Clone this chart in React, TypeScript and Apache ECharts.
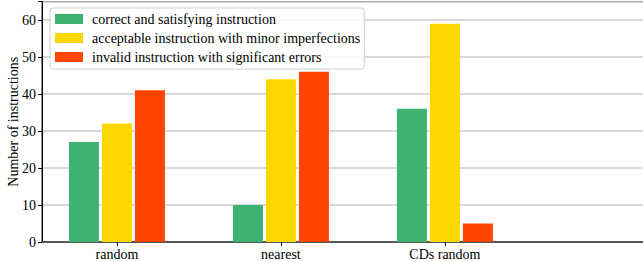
import React, { useEffect, useRef } from "react";
import * as echarts from "echarts";

const categories = ["random", "nearest", "CDs random"];
const seriesNames = [
  "correct and satisfying instruction",
  "acceptable instruction with minor imperfections",
  "invalid instruction with significant errors",
];
const correctValues = [27, 10, 36];
const acceptableValues = [32, 44, 59];
const invalidValues = [41, 46, 5];
const colors = ["#3CB371", "#FFD700", "#FF4500"];
const yTicks = [0, 10, 20, 30, 40, 50, 60];

const FONT = "'Liberation Serif', 'DejaVu Serif', serif";
const BAR_W = 30;
const BAR_PITCH = 33;

export default function App() {
  const ref = useRef<HTMLDivElement>(null);
  useEffect(() => {
    if (!ref.current) return;
    const chart = echarts.init(ref.current, undefined, { renderer: "svg" });
    const all = [correctValues, acceptableValues, invalidValues];
    const idx = categories.map((_, i) => i);
    chart.setOption({
      animation: false,
      textStyle: { fontFamily: FONT },
      grid: {
        left: 42,
        right: -2,
        top: 1.5,
        bottom: 20,
        containLabel: false,
        outerBoundsMode: "none",
        show: true,
        borderColor: "#444",
        borderWidth: 1.2,
        backgroundColor: "transparent",
      },
      legend: {
        orient: "vertical",
        left: 50,
        top: 8,
        itemWidth: 28,
        itemHeight: 10,
        itemGap: 5,
        padding: [4, 4, 5, 5],
        borderColor: "#d0d0d0",
        borderWidth: 1,
        borderRadius: 3,
        backgroundColor: "rgba(255,255,255,0.85)",
        textStyle: { fontFamily: FONT, fontSize: 14, color: "#000", padding: [0, 0, 0, 4] },
        data: seriesNames.map((n, i) => ({ name: n, icon: "rect", itemStyle: { color: colors[i] } })),
      },
      xAxis: {
        type: "value",
        min: -0.457,
        max: 3.22,
        splitLine: { show: false },
        axisLine: { show: true, onZero: false, lineStyle: { color: "#555", width: 2 } },
        axisTick: { show: true, customValues: idx, length: 4, lineStyle: { color: "#000" } },
        axisLabel: {
          customValues: idx,
          formatter: (v: number) => categories[Math.round(v)] ?? "",
          fontFamily: FONT,
          fontSize: 14,
          color: "#000",
          margin: 5,
        },
      },
      yAxis: {
        type: "value",
        min: 0,
        max: 65,
        interval: 10,
        name: "Number of instructions",
        nameLocation: "middle",
        nameGap: 22,
        nameMoveOverlap: false,
        nameTextStyle: { fontFamily: FONT, fontSize: 14, color: "#000" },
        axisLine: { show: true, onZero: false, lineStyle: { color: "#000", width: 1 } },
        axisTick: { show: true, length: 4, lineStyle: { color: "#000" } },
        axisLabel: {
          fontFamily: FONT,
          fontSize: 14,
          color: "#000",
          margin: 6,
          formatter: (v: number) => (yTicks.includes(v) ? String(v) : ""),
        },
        splitLine: { show: true, lineStyle: { color: "#cccccc", width: 1.5 } },
      },
      series: all.map((vals, s) => ({
        name: seriesNames[s],
        type: "custom",
        itemStyle: { color: colors[s] },
        encode: { x: 0, y: 1 },
        data: vals.map((v, i) => [i, v]),
        renderItem: (params: any, api: any) => {
          const top = api.coord([api.value(0), api.value(1)]);
          const base = api.coord([api.value(0), 0]);
          const cx = top[0] + (s - 1) * BAR_PITCH;
          return {
            type: "rect",
            shape: { x: cx - BAR_W / 2, y: top[1], width: BAR_W, height: base[1] - top[1] },
            style: { fill: colors[s] },
          };
        },
      })),
    });
    return () => chart.dispose();
  }, []);
  return <div ref={ref} style={{ width: 643, height: 262, position: "absolute", left: 0, top: 0 }} />;
}
